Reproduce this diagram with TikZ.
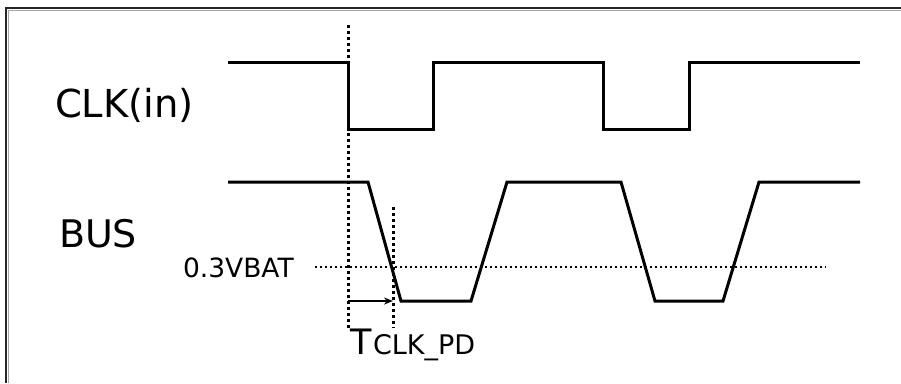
\documentclass[tikz,border=0pt]{standalone}
\usepackage{fontspec}
\setmainfont{DejaVu Sans}
\usetikzlibrary{arrows.meta}
\begin{document}
\begin{tikzpicture}[x=1pt,y=-1pt,
  sig/.style={line width=3pt,line join=miter,black},
  dotline/.style={line width=3pt,dash pattern=on 2.8pt off 3.2pt,black},
  lab/.style={anchor=base west,inner sep=0pt,outer sep=0pt}]
\useasboundingbox (0,0) rectangle (901,383);
\fill[white] (0,0) rectangle (901,383);
% frame
\draw[line width=2.2pt,black!85] (6,383) -- (6,8) -- (901,8);
\draw[line width=1pt,black!35] (8.5,383) -- (8.5,10.5) -- (901,10.5);
% labels
\node[lab,font=\fontsize{38.5}{40}\selectfont] (clk) at (55,117) {CLK(in)};
\node[lab,font=\fontsize{38}{40}\selectfont] (bus) at (59,247) {BUS};
\node[lab,font=\fontsize{26.5}{28}\selectfont] (vth) at (183,277) {0.3VBAT};
\node[lab,font=\fontsize{35}{36}\selectfont] (tt) at (350,354) {T};
\node[lab,font=\fontsize{27}{28}\selectfont] (tsub) at (373,354) {CLK\_PD};
% threshold line
\draw[dotline,line width=2.6pt,dash pattern=on 2.4pt off 2.6pt] (315,267) -- (826,267);
% vertical markers
\coordinate (m1t) at (348,25);
\coordinate (m1b) at (348,328);
\coordinate (m2t) at (393,207);
\coordinate (m2b) at (393,328);
\draw[dotline] (m1t) -- (m1b);
\draw[dotline] (m2t) -- (m2b);
% CLK waveform
\draw[sig] (228,62) -- (348,62) -- (348,129) -- (433,129) -- (433,62)
  -- (603,62) -- (603,129) -- (689,129) -- (689,62) -- (860,62);
% BUS waveform
\draw[sig] (228,182) -- (368,182) -- (401,301) -- (471,301) -- (507,182)
  -- (621,182) -- (655,301) -- (723,301) -- (759,182) -- (860,182);
% delay arrow
\coordinate (a1) at (348,301);
\coordinate (a2) at (393,301);
\draw[line width=1.5pt,-{Stealth[length=9pt,width=7pt]}] (a1) -- (a2);
\end{tikzpicture}
\end{document}
